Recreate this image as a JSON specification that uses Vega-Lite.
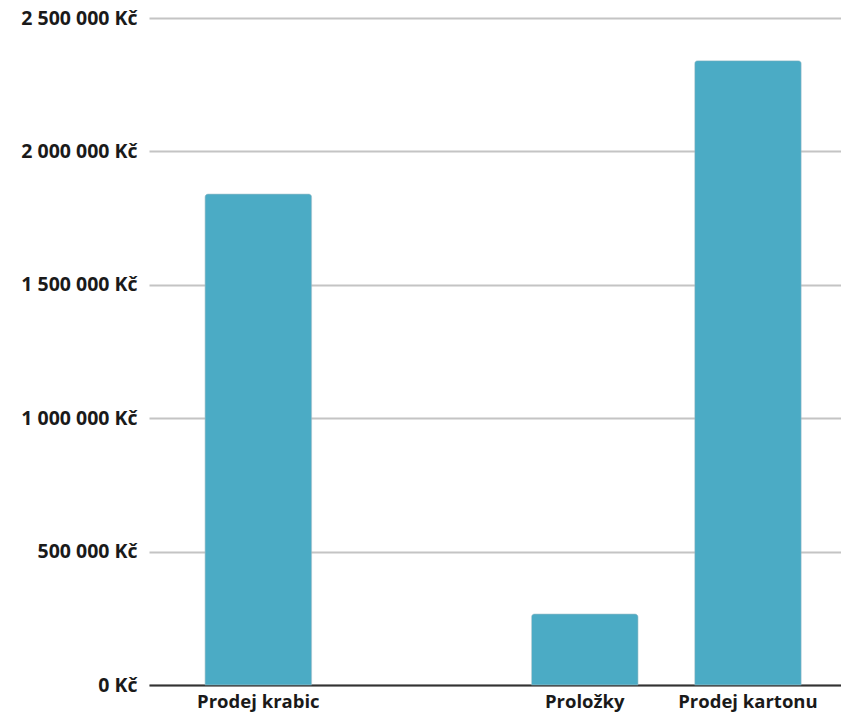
{
  "$schema": "https://vega.github.io/schema/vega-lite/v6.json",
  "autosize": "none",
  "padding": {"left": 149, "top": 18, "right": 0, "bottom": 33},
  "width": 692,
  "height": 667,
  "config": {
    "view": {"stroke": null},
    "locale": {"number": {"decimal": ",", "thousands": " ", "grouping": [3], "currency": ["", " Kč"]}}
  },
  "data": {"values": [
    {"kategorie": "Prodej krabic", "castka": 1840000},
    {"kategorie": "Proložky", "castka": 266000},
    {"kategorie": "Prodej kartonu", "castka": 2340000}
  ]},
  "mark": {"type": "bar", "color": "#4babc5", "cornerRadiusTopLeft": 3, "cornerRadiusTopRight": 3, "stroke": "#8fb8c4", "strokeWidth": 0.5},
  "encoding": {
    "x": {
      "field": "kategorie", "type": "nominal",
      "scale": {"domain": ["Prodej krabic", "", "Proložky", "Prodej kartonu"], "paddingInner": 0.347, "paddingOuter": 0.2935, "align": 0.585},
      "axis": {"title": null, "labelAngle": 0, "ticks": false, "domainColor": "#333333", "domainWidth": 2, "labelFont": "Open Sans", "labelFontWeight": "bold", "labelFontSize": 18.5, "labelColor": "#1a1a1a", "labelPadding": 7, "grid": false}
    },
    "y": {
      "field": "castka", "type": "quantitative",
      "scale": {"domain": [0, 2500000], "nice": false},
      "axis": {"title": null, "values": [0, 500000, 1000000, 1500000, 2000000, 2500000], "format": "$,d", "domain": false, "ticks": false, "gridColor": "#c4c4c4", "gridWidth": 2, "labelFont": "Open Sans", "labelFontWeight": "bold", "labelFontSize": 19.5, "labelColor": "#1a1a1a", "labelPadding": 12}
    }
  }
}
